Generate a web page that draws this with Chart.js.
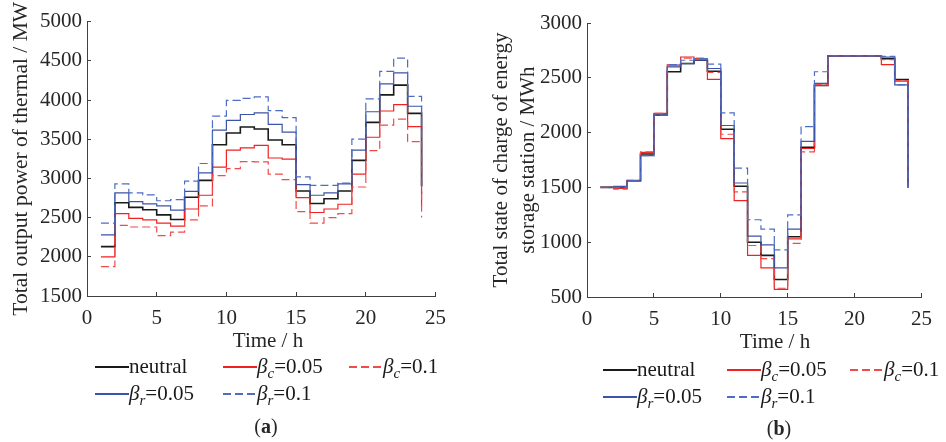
<!DOCTYPE html>
<html>
<head>
<meta charset="utf-8">
<script src="https://cdn.jsdelivr.net/npm/chart.js@4.4.1/dist/chart.umd.min.js"></script>
<style>
  body { margin: 0; background: #fff; width: 946px; height: 442px; position: relative; overflow: hidden;
         font-family: 'Liberation Serif', serif; color: #262626; }
  .panel { position: absolute; top: 0; height: 330px; }
  #panelA { left: 0; width: 460px; }
  #panelB { left: 480px; width: 466px; }
  .xtitle { position: absolute; font-size: 21px; line-height: 21px; white-space: nowrap; transform: translateX(-50%); }
  .legend { position: absolute; display: grid; grid-auto-rows: 27px; font-size: 21px; color: #1a1a1a; }
  .item { display: flex; align-items: flex-start; white-space: nowrap; line-height: 21px; }
  .swatch { width: 34px; height: 2px; margin-top: 10px; flex: none; }
  .lbl sub { font-size: 15px; vertical-align: -5px; line-height: 0; }
  .caption { position: absolute; font-size: 20px; line-height: 20px; white-space: nowrap; transform: translateX(-50%); }
</style>
</head>
<body>

<div class="panel" id="panelA"><canvas id="thermalChart"></canvas></div>
<div class="panel" id="panelB"><canvas id="socChart"></canvas></div>

<div class="xtitle" style="left:268px; top:330px;">Time / h</div>
<div class="xtitle" style="left:775px; top:331px;">Time / h</div>

<div class="legend" id="legendA" style="left:95px; top:356px; grid-template-columns:128px 126px auto;"></div>
<div class="legend" id="legendB" style="left:603px; top:359px; grid-template-columns:124px 123px auto;"></div>

<div class="caption" style="left:266px; top:416px;">(<b>a</b>)</div>
<div class="caption" style="left:779px; top:418px;">(<b>b</b>)</div>

<script>
// hourly schedule, x = 1..24 h
const hours = [1, 2, 3, 4, 5, 6, 7, 8, 9, 10, 11, 12, 13, 14, 15, 16, 17, 18, 19, 20, 21, 22, 23, 24];
const xTicks = [0, 5, 10, 15, 20, 25];
const thermalTicks = [1500, 2000, 2500, 3000, 3500, 4000, 4500, 5000];
const socTicks = [500, 1000, 1500, 2000, 2500, 3000];

const seriesNames = ['neutral', 'βc=0.05', 'βc=0.1', 'βr=0.05', 'βr=0.1'];

// total thermal output (MW)
const thermalNeutral = [2130, 2690, 2630, 2600, 2535, 2475, 2760, 2975, 3430, 3580, 3655, 3630, 3490, 3430,
                        2840, 2680, 2740, 2840, 3230, 3715, 4065, 4190, 3830, 2900];
const thermalBc005 = [2000, 2550, 2490, 2470, 2430, 2390, 2610, 2785, 3145, 3360, 3390, 3420, 3260, 3245,
                      2755, 2565, 2610, 2670, 3055, 3525, 3860, 3940, 3660, 2640];
const thermalBc01 = [1875, 2400, 2380, 2380, 2270, 2315, 2470, 2650, 3035, 3125, 3215, 3210, 3055, 2985,
                     2575, 2430, 2500, 2550, 2890, 3355, 3680, 3755, 3470, 2500];
const thermalBr005 = [2280, 2815, 2705, 2675, 2650, 2595, 2835, 3070, 3615, 3740, 3815, 3835, 3690, 3590,
                      2920, 2785, 2815, 2930, 3360, 3850, 4205, 4345, 3920, 2900];
const thermalBr01 = [2430, 2930, 2815, 2790, 2715, 2730, 2965, 3190, 3795, 3995, 4020, 4040, 3865, 3775,
                     3020, 2910, 2910, 2940, 3500, 4015, 4365, 4535, 4045, 2800];

// total state of charge of the storage station (MWh)
const socNeutral = [1500, 1495, 1560, 1805, 2160, 2555, 2630, 2660, 2560, 2030, 1510, 1000, 880, 660,
                    1050, 1865, 2430, 2700, 2700, 2700, 2700, 2675, 2485, 1500];
const socBc005 = [1500, 1490, 1565, 1820, 2175, 2610, 2690, 2675, 2485, 1945, 1380, 880, 765, 570,
                  1030, 1855, 2430, 2700, 2700, 2700, 2700, 2620, 2470, 1500];
const socBc01 = [1500, 1485, 1565, 1825, 2175, 2620, 2680, 2680, 2550, 1985, 1460, 970, 850, 580,
                 990, 1825, 2440, 2700, 2700, 2700, 2700, 2665, 2475, 1500];
const socBr005 = [1500, 1510, 1560, 1790, 2160, 2600, 2630, 2660, 2585, 2065, 1540, 1055, 975, 765,
                  1120, 1920, 2450, 2700, 2700, 2700, 2700, 2690, 2435, 1500];
const socBr01 = [1500, 1500, 1560, 1790, 2160, 2620, 2660, 2675, 2625, 2180, 1675, 1205, 1120, 930,
                 1250, 2055, 2555, 2700, 2700, 2700, 2700, 2695, 2435, 1500];

const lineStyles = [
  { color: '#1a1a1a', width: 1.6, dash: [] },
  { color: '#ee2222', width: 1.2, dash: [] },
  { color: '#ef4b4b', width: 1.2, dash: [8, 4] },
  { color: '#3b54a5', width: 1.2, dash: [] },
  { color: '#4d6cc4', width: 1.2, dash: [8, 4] }
];

const axisColor = '#404040';
const textColor = '#262626';
const font = { family: 'Liberation Serif', size: 21 };

const makeChart = (canvasId, series, yTicks, yTitle, box) => {
  const datasets = series.map((vals, i) => ({
    label: seriesNames[i],
    data: hours.map((h, k) => ({ x: h, y: vals[k] })),
    borderColor: lineStyles[i].color,
    borderWidth: lineStyles[i].width,
    borderDash: lineStyles[i].dash,
    stepped: true,
    pointRadius: 0,
    fill: false,
    order: series.length - i
  }));

  return new Chart(document.getElementById(canvasId), {
    type: 'line',
    data: { datasets: datasets },
    options: {
      responsive: true,
      maintainAspectRatio: false,
      animation: false,
      layout: { padding: box.padding },
      plugins: { legend: { display: false }, tooltip: { enabled: false } },
      scales: {
        x: {
          type: 'linear',
          min: xTicks[0],
          max: xTicks[xTicks.length - 1],
          afterBuildTicks: s => { s.ticks = xTicks.map(v => ({ value: v })); },
          afterFit: s => { s.height = box.xHeight; },
          grid: { drawOnChartArea: false, tickLength: -4, tickColor: axisColor },
          border: { color: axisColor, width: 1 },
          ticks: { font: font, color: textColor, padding: 14, maxRotation: 0, autoSkip: false,
                   callback: v => String(v) }
        },
        y: {
          min: yTicks[0],
          max: yTicks[yTicks.length - 1],
          afterBuildTicks: s => { s.ticks = yTicks.map(v => ({ value: v })); },
          afterFit: s => { s.width = box.yWidth; },
          grid: { drawOnChartArea: false, tickLength: -4, tickColor: axisColor },
          border: { color: axisColor, width: 1 },
          ticks: { font: font, color: textColor, padding: 9, autoSkip: false,
                   callback: v => String(v) },
          title: {
            display: true,
            text: yTitle,
            color: textColor,
            font: { family: 'Liberation Serif', size: box.titleSize, lineHeight: 1.3 },
            padding: { top: box.titlePad, bottom: 0 }
          }
        }
      }
    }
  });
};

// "βc=0.05" -> italic beta with italic subscript
const labelHtml = name => {
  const m = name.match(/^β(\w)(=.*)$/);
  return m ? `<i>β</i><sub><i>${m[1]}</i></sub>${m[2]}` : name;
};

const buildLegend = (chart, elId) => {
  document.getElementById(elId).innerHTML = chart.data.datasets.map(ds => {
    const c = ds.borderColor;
    const bg = ds.borderDash.length
      ? `repeating-linear-gradient(90deg, ${c} 0 ${ds.borderDash[0]}px, transparent ${ds.borderDash[0]}px ${ds.borderDash[0] + ds.borderDash[1]}px)`
      : c;
    return `<div class="item"><span class="swatch" style="background:${bg}"></span><span class="lbl">${labelHtml(ds.label)}</span></div>`;
  }).join('');
};

const thermalChart = makeChart('thermalChart',
  [thermalNeutral, thermalBc005, thermalBc01, thermalBr005, thermalBr01],
  thermalTicks, 'Total output power of thermal / MW',
  { padding: { top: 16, right: 17, left: 0, bottom: 0 }, xHeight: 34, yWidth: 87, titlePad: 7, titleSize: 21.5 });

const socChart = makeChart('socChart',
  [socNeutral, socBc005, socBc01, socBr005, socBr01],
  socTicks, ['Total state of charge of energy', 'storage station / MWh'],
  { padding: { top: 23, right: 11, left: 0, bottom: 0 }, xHeight: 33, yWidth: 107, titlePad: 8, titleSize: 21 });

buildLegend(thermalChart, 'legendA');
buildLegend(socChart, 'legendB');
</script>
</body>
</html>
